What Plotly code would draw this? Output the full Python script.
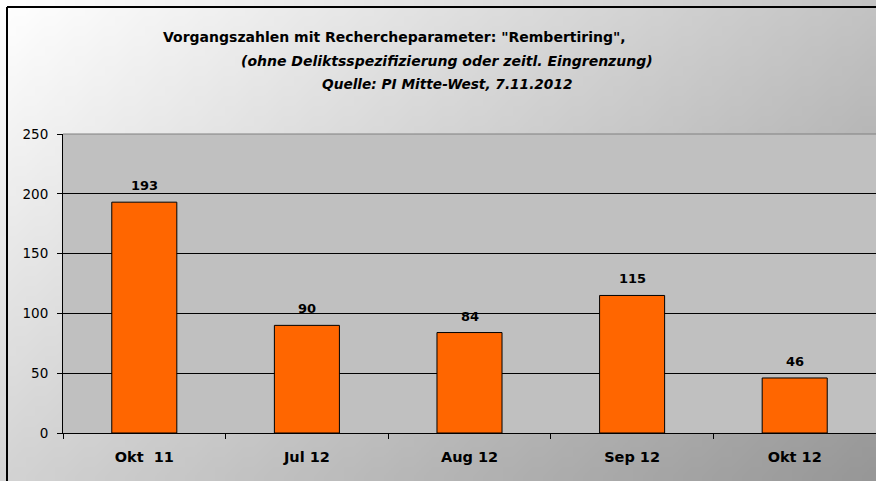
import base64, struct, zlib
import plotly.graph_objects as go

categories = ["Okt\u00a0 11", "Jul 12", "Aug 12", "Sep 12", "Okt 12"]
values = [193, 90, 84, 115, 46]
y_ticks = [0, 50, 100, 150, 200, 250]

W, H = 876, 481
L, T, B = 63, 134, 48
PW, PH = W - L, H - T - B
FONT = "DejaVu Sans, Arial, sans-serif"


def gradient_png(w, h):
    rows = b""
    for j in range(h):
        row = bytearray([0])
        for i in range(w):
            v = 255 - 60 * i / (w - 1) - 44 * j / (h - 1)
            row.append(max(0, min(255, int(round(v)))))
        rows += bytes(row)

    def chunk(tag, data):
        c = struct.pack(">I", len(data)) + tag + data
        return c + struct.pack(">I", zlib.crc32(tag + data) & 0xFFFFFFFF)

    png = b"\x89PNG\r\n\x1a\n"
    png += chunk(b"IHDR", struct.pack(">IIBBBBB", w, h, 8, 0, 0, 0, 0))
    png += chunk(b"IDAT", zlib.compress(rows, 9))
    png += chunk(b"IEND", b"")
    return "data:image/png;base64," + base64.b64encode(png).decode()


def px_x(p):
    return (p - L) / PW


def px_y(p):
    return (H - B - p) / PH


fig = go.Figure()
fig.add_trace(go.Bar(
    x=categories, y=values, width=0.4,
    marker=dict(color="#FF6600", line=dict(color="#000000", width=1)),
    hoverinfo="x+y",
))

annotations = []
for c, v in zip(categories, values):
    annotations.append(dict(x=c, y=v, xref="x", yref="y", text=f"<b>{v}</b>",
                            showarrow=False, yanchor="bottom", yshift=7,
                            font=dict(family=FONT, size=13, color="#000")))

annotations += [
    dict(x=px_x(394), y=px_y(37), xref="paper", yref="paper", showarrow=False,
         text="<b>Vorgangszahlen mit Rechercheparameter: \"Rembertiring\",</b>",
         font=dict(family=FONT, size=14, color="#000"), xanchor="center", yanchor="middle"),
    dict(x=px_x(447), y=px_y(61), xref="paper", yref="paper", showarrow=False,
         text="<b><i>(ohne Deliktsspezifizierung oder zeitl. Eingrenzung)</i></b>",
         font=dict(family=FONT, size=14, color="#000"), xanchor="center", yanchor="middle"),
    dict(x=px_x(447), y=px_y(84), xref="paper", yref="paper", showarrow=False,
         text="<b><i>Quelle: PI Mitte-West, 7.11.2012</i></b>",
         font=dict(family=FONT, size=13.7, color="#000"), xanchor="center", yanchor="middle"),
]

fig.update_layout(
    width=W, height=H,
    margin=dict(l=L, r=0, t=T, b=B, pad=0),
    paper_bgcolor="#FFFFFF",
    plot_bgcolor="#C0C0C0",
    showlegend=False,
    font=dict(family=FONT, size=13, color="#000"),
    annotations=annotations,
    images=[dict(source=gradient_png(88, 48), xref="paper", yref="paper",
                 x=px_x(0), y=px_y(0), sizex=W / PW, sizey=H / PH,
                 xanchor="left", yanchor="top", sizing="stretch", layer="below")],
    shapes=[
        dict(type="rect", xref="paper", yref="paper", x0=0, x1=1, y0=0, y1=1,
             fillcolor="#C0C0C0", line=dict(width=0), layer="below"),
        dict(type="line", xref="paper", yref="paper", x0=0, x1=1, y0=1, y1=1,
             line=dict(color="#808080", width=1)),
        dict(type="line", xref="paper", yref="paper", x0=px_x(7), x1=px_x(7),
             y0=px_y(7), y1=px_y(H + 5), line=dict(color="#000", width=2)),
        dict(type="line", xref="paper", yref="paper", x0=px_x(7), x1=px_x(W + 5),
             y0=px_y(7), y1=px_y(7), line=dict(color="#000", width=2)),
    ],
)

fig.update_xaxes(
    showline=True, linecolor="#000", linewidth=1,
    ticks="outside", ticklen=5, tickcolor="#000", tickson="boundaries",
    showgrid=False, tickfont=dict(family=FONT, size=14.5, color="#000", weight="bold"),
    ticklabelstandoff=11,
)
fig.update_yaxes(
    range=[0, 250], tickvals=y_ticks, ticktext=[str(t) for t in y_ticks],
    showline=True, linecolor="#000", linewidth=1,
    ticks="outside", ticklen=5, tickcolor="#000",
    showgrid=True, gridcolor="#000", gridwidth=1, zeroline=False,
    tickfont=dict(family=FONT, size=13.5, color="#000"),
    ticklabelstandoff=6,
)

fig.write_html("out.html", config={"displayModeBar": False},
               post_script="document.body.style.margin='0';")
